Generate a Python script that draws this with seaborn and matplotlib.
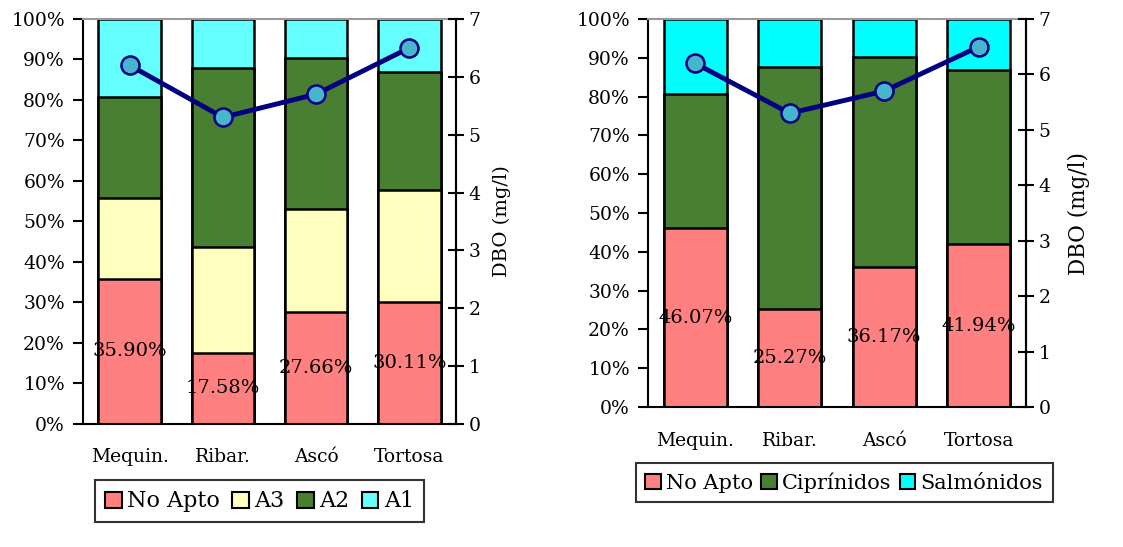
import numpy as np
import pandas as pd
import matplotlib
matplotlib.use('Agg')
import matplotlib.pyplot as plt
from matplotlib.patches import Patch
import seaborn as sns

# data
sites = ['Mequin.', 'Ribar.', 'Ascó', 'Tortosa']
dbo = [6.2, 5.3, 5.7, 6.5]

# left chart: water use for drinking (percent of samples)
no_apto_a = [35.90, 17.58, 27.66, 30.11]
a3 = [19.9, 26.1, 25.4, 27.7]
a2 = [24.9, 44.2, 37.2, 29.1]
a1 = [19.3, 12.12, 9.74, 13.09]

# right chart: fish life
no_apto_b = [46.07, 25.27, 36.17, 41.94]
ciprinidos = [34.6, 62.3, 54.0, 45.0]
salmonidos = [19.33, 12.43, 9.83, 13.06]

sns.set_theme(style='white')
plt.rcParams['font.family'] = ['DejaVu Serif']
plt.rcParams['axes.linewidth'] = 1.5
for k in ['text.color', 'axes.labelcolor', 'xtick.color', 'ytick.color']:
    plt.rcParams[k] = 'black'

C_NOAPTO = '#FF8080'
C_A3 = '#FFFFC0'
C_GREEN = '#487F32'
C_A1 = '#66FFFF'
C_SALM = '#00FFFF'
C_LINE = '#000080'
C_MARK = '#45B6CC'
FS = 13.5


def stacked(ax, layers, colors):
    # draw the cumulative totals from the top layer down, so each segment shows
    cum = np.cumsum(np.array(layers), axis=0)
    for tot, col in zip(cum[::-1], colors[::-1]):
        df = pd.DataFrame({'site': sites, 'val': tot})
        sns.barplot(data=df, x='site', y='val', color=col, width=0.67,
                    edgecolor='black', linewidth=1.8, saturation=1, ax=ax)
    # labels centered in the bottom segment
    for i, v in enumerate(layers[0]):
        ax.text(i, v / 2, f'{v:.2f}%', ha='center', va='center', fontsize=14, color='black')


def style(ax, ax2, label_x, label_fs, xpad):
    ax.set_xlim(-0.5, 3.5)
    ax.set_ylim(0, 100)
    ax.set_yticks(np.arange(0, 101, 10))
    ax.set_yticklabels([f'{v}%' for v in range(0, 101, 10)], fontsize=FS)
    ax.set_xlabel('')
    ax.set_ylabel('')
    ax.set_xticks(np.arange(-0.5, 4, 1))
    ax.set_xticklabels([])
    ax.set_xticks(range(4), minor=True)
    ax.set_xticklabels(sites, minor=True, fontsize=FS)
    ax.tick_params(axis='x', which='major', direction='out', length=7, width=1.5, color='black')
    ax.tick_params(axis='x', which='minor', length=0, pad=xpad)
    ax.tick_params(axis='y', direction='out', length=7, width=1.5, color='black', left=True, pad=6)
    for s in ['left', 'bottom', 'right']:
        ax.spines[s].set_color('black')
    ax.spines['top'].set_color('#999999')

    ax2.set_ylim(0, 7)
    ax2.set_yticks(range(8))
    ax2.set_yticklabels([str(v) for v in range(8)], fontsize=FS)
    ax2.tick_params(axis='y', direction='inout', length=12, width=1.5, color='black', right=True, pad=3)
    ax2.set_ylabel('DBO (mg/l)', fontsize=label_fs)
    ax2.yaxis.set_label_coords(label_x, 0.5)
    ax2.set_xlabel('')
    for s in ['top', 'left', 'bottom']:
        ax2.spines[s].set_visible(False)
    ax2.spines['right'].set_color('black')


def dbo_line(ax2):
    df = pd.DataFrame({'x': range(4), 'dbo': dbo})
    sns.lineplot(data=df, x='x', y='dbo', color=C_LINE, linewidth=3.5, marker='o',
                 markersize=13, markerfacecolor=C_MARK, markeredgecolor=C_LINE,
                 markeredgewidth=1.8, ax=ax2)


def legend(handles, anchor, ncol, fs, colsp):
    leg = fig.legend(handles=handles, loc='center', bbox_to_anchor=anchor, ncol=ncol,
                     fontsize=fs, frameon=True, fancybox=False, handlelength=0.75, handleheight=0.75,
                     handletextpad=0.25, columnspacing=colsp, borderpad=0.45, borderaxespad=0)
    leg.get_frame().set_edgecolor('black')
    leg.get_frame().set_linewidth(1.5)


fig = plt.figure(figsize=(11.23, 5.47), dpi=100)

# left chart
ax = fig.add_axes([0.0739, 0.2249, 0.3321, 0.7404])
stacked(ax, [no_apto_a, a3, a2, a1], [C_NOAPTO, C_A3, C_GREEN, C_A1])
ax2 = ax.twinx()
dbo_line(ax2)
style(ax, ax2, 1.10, 14, 17)
legend([Patch(facecolor=c, edgecolor='black', linewidth=1.5, label=l)
        for c, l in zip([C_NOAPTO, C_A3, C_GREEN, C_A1], ['No Apto', 'A3', 'A2', 'A1'])],
       (0.2311, 0.0832), 4, 16, 0.55)

# right chart
bx = fig.add_axes([0.5770, 0.2559, 0.3366, 0.7093])
stacked(bx, [no_apto_b, ciprinidos, salmonidos], [C_NOAPTO, C_GREEN, C_SALM])
bx2 = bx.twinx()
dbo_line(bx2)
style(bx, bx2, 1.11, 15.5, 18)
legend([Patch(facecolor=c, edgecolor='black', linewidth=1.5, label=l)
        for c, l in zip([C_NOAPTO, C_GREEN, C_SALM], ['No Apto', 'Ciprínidos', 'Salmónidos'])],
       (0.7516, 0.1179), 3, 15, 0.4)

fig.savefig('out.png', dpi=100)
